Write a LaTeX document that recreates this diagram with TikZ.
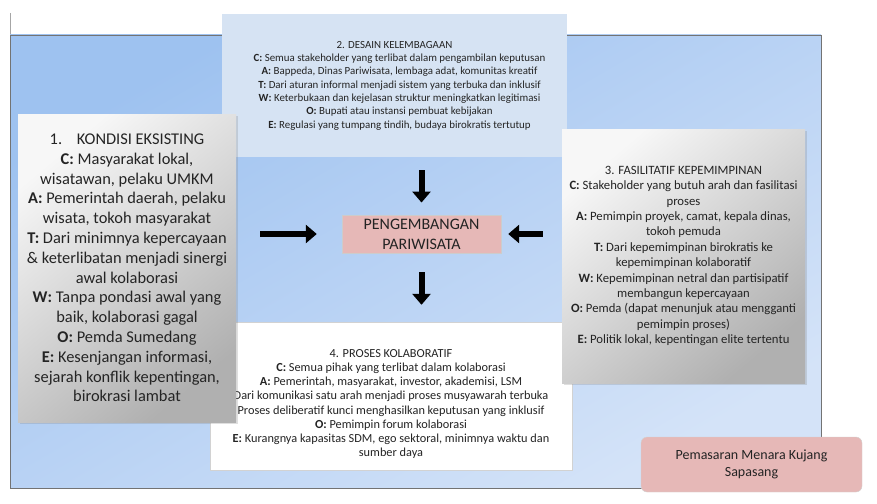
\documentclass[tikz,border=0pt]{standalone}
\usepackage{fontspec}
\setmainfont{Carlito}
\usetikzlibrary{arrows.meta, shadows}
\definecolor{slidetop}{RGB}{158,194,240}
\definecolor{slidebot}{RGB}{212,227,248}
\definecolor{marble}{RGB}{214,227,243}
\definecolor{rosy}{RGB}{230,184,183}
\definecolor{ink}{RGB}{36,36,36}
\tikzstyle{panel}=[inner sep=4pt, align=center, text=ink]
\tikzstyle{greybox}=[panel, shading=axis, top color=gray!6, bottom color=gray!62, shading angle=40,
  drop shadow={shadow xshift=2pt, shadow yshift=-2pt, opacity=0.25}]
\tikzstyle{fatarrow}=[line width=6pt, -{Triangle[length=11pt,width=18pt]}]

\begin{document}
\begin{tikzpicture}[x=1pt, y=-1pt]
  \useasboundingbox (0,0) rectangle (877,503);
  % slide background
  \draw[gray!70] (10,13) -- (10,35);
  \shade[top color=slidetop, bottom color=slidebot, shading angle=30] (10,35) rectangle (821,488);
  \draw[black!55] (10,35) rectangle (821,488);
  \node[panel, fill=white, draw=gray!35, minimum width=362pt, minimum height=148pt,
        font=\fontsize{12.3}{14.1}\selectfont] (proses) at (391,396)
    {\rule{0pt}{24pt}4. PROSES KOLABORATIF\\
     \textbf{C:} Semua pihak yang terlibat dalam kolaborasi\\
     \textbf{A:} Pemerintah, masyarakat, investor, akademisi, LSM\\
     Dari komunikasi satu arah menjadi proses musyawarah terbuka\\
     Proses deliberatif kunci menghasilkan keputusan yang inklusif\\
     \textbf{O:} Pemimpin forum kolaborasi\\
     \textbf{E:} Kurangnya kapasitas SDM, ego sektoral, minimnya waktu dan\\
     sumber daya};
  \node[panel, fill=marble, minimum width=345pt, minimum height=143pt,
        font=\fontsize{10.9}{13.3}\selectfont] (desain) at (394.5,85.5)
    {2. DESAIN KELEMBAGAAN\\
     \hspace*{10pt}\textbf{C:} Semua stakeholder yang terlibat dalam pengambilan keputusan\\
     \hspace*{10pt}\textbf{A:} Bappeda, Dinas Pariwisata, lembaga adat, komunitas kreatif\\
     \hspace*{10pt}\textbf{T:} Dari aturan informal menjadi sistem yang terbuka dan inklusif\\
     \hspace*{10pt}\textbf{W:} Keterbukaan dan kejelasan struktur meningkatkan legitimasi\\
     \hspace*{10pt}\textbf{O:} Bupati atau instansi pembuat kebijakan\\
     \hspace*{10pt}\textbf{E:} Regulasi yang tumpang tindih, budaya birokratis tertutup};
  \node[greybox, minimum width=218pt, minimum height=308pt,
        font=\fontsize{16.4}{19.8}\selectfont] (kondisi) at (127,268)
    {1.\hspace{0.9em}KONDISI EKSISTING\\
     \textbf{C:} Masyarakat lokal,\\
     wisatawan, pelaku UMKM\\
     \textbf{A:} Pemerintah daerah, pelaku\\
     wisata, tokoh masyarakat\\
     \textbf{T:} Dari minimnya kepercayaan\\
     \& keterlibatan menjadi sinergi\\
     awal kolaborasi\\
     \textbf{W:} Tanpa pondasi awal yang\\
     baik, kolaborasi gagal\\
     \textbf{O:} Pemda Sumedang\\
     \textbf{E:} Kesenjangan informasi,\\
     sejarah konflik kepentingan,\\
     birokrasi lambat};
  \node[greybox, minimum width=243pt, minimum height=254pt,
        font=\fontsize{12.7}{15.4}\selectfont] (fasilitatif) at (683.5,256)
    {3. FASILITATIF KEPEMIMPINAN\\
     \textbf{C:} Stakeholder yang butuh arah dan fasilitasi\\
     proses\\
     \textbf{A:} Pemimpin proyek, camat, kepala dinas,\\
     tokoh pemuda\\
     \textbf{T:} Dari kepemimpinan birokratis ke\\
     kepemimpinan kolaboratif\\
     \textbf{W:} Kepemimpinan netral dan partisipatif\\
     membangun kepercayaan\\
     \textbf{O:} Pemda (dapat menunjuk atau mengganti\\
     pemimpin proses)\\
     \textbf{E:} Politik lokal, kepentingan elite tertentu};
  \node[panel, fill=rosy, draw=gray!40, minimum width=159pt, minimum height=38pt,
        font=\fontsize{16}{20}\selectfont] (pusat) at (421.5,234)
    {PENGEMBANGAN\\PARIWISATA};
  \node[panel, fill=rosy, draw=gray!35, rounded corners=6pt, minimum width=221pt, minimum height=55pt,
        font=\fontsize{14}{17}\selectfont] (pemasaran) at (751.5,464.5)
    {Pemasaran Menara Kujang\\Sapasang};
  % arrows into and out of the centre
  \draw[fatarrow, shorten <=13pt, shorten >=12pt] (desain.south -| pusat.north) -- (pusat.north);
  \draw[fatarrow, shorten <=24pt, shorten >=25pt] (kondisi.east |- pusat.west) -- (pusat.west);
  \draw[fatarrow, shorten <=19pt, shorten >=7pt] (fasilitatif.west |- pusat.east) -- (pusat.east);
  \draw[fatarrow, shorten <=19pt, shorten >=17pt] (pusat.south) -- (proses.north -| pusat.south);
\end{tikzpicture}
\end{document}
